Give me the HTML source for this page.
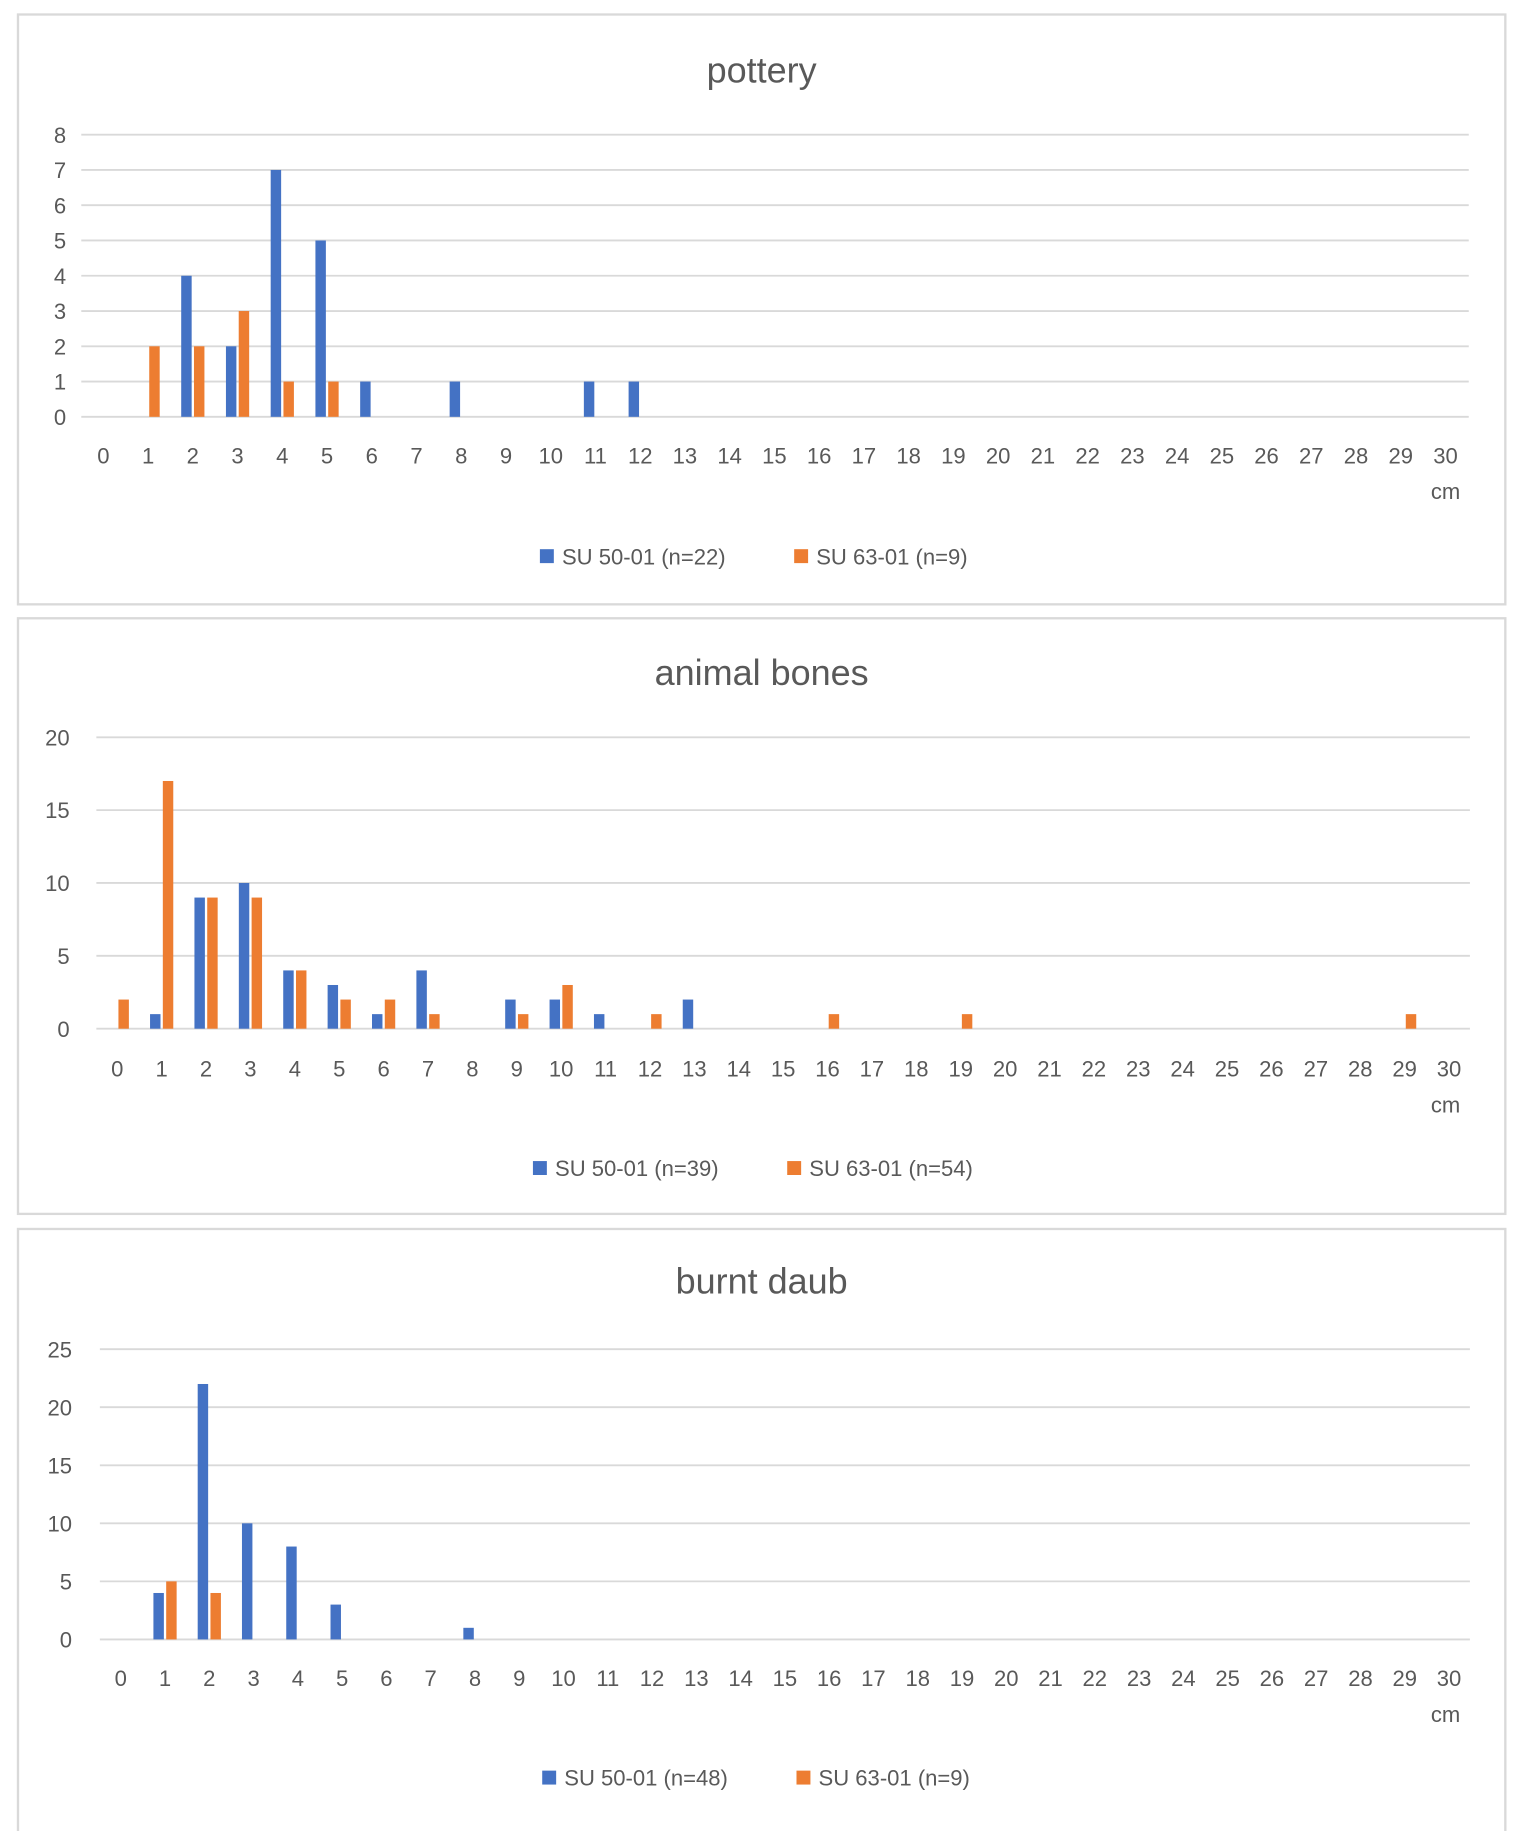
<!DOCTYPE html>
<html><head><meta charset="utf-8"><style>
html,body{margin:0;padding:0;background:#fff;}
svg{display:block;}
</style></head><body>
<svg id="s" width="1521" height="1831" viewBox="0 0 1310 1577" preserveAspectRatio="none" xmlns="http://www.w3.org/2000/svg" font-family="'Liberation Sans', sans-serif">
<rect x="0" y="0" width="1310" height="1577" fill="#fff"/>
</svg>
<script>
const s=document.getElementById('s');
const NS='http://www.w3.org/2000/svg';
function el(t,a,txt){const e=document.createElementNS(NS,t);for(const k in a)e.setAttribute(k,a[k]);if(txt!==undefined)e.textContent=txt;s.appendChild(e);return e;}
const charts=[
 {py:12,ph:508,title:'pottery',ty:60,gx0:70,gx1:1265,c0:89,c30:1245,ytop:116,ybot:359,max:8,step:1,lx:57,tky:392,cmy:423,legy:479,
  blue:{2:4,3:2,4:7,5:5,6:1,8:1,11:1,12:1},orange:{1:2,2:2,3:3,4:1,5:1},
  l1:'SU 50-01 (n=22)',l2:'SU 63-01 (n=9)',legx:465},
 {py:532,ph:513,title:'animal bones',ty:579,gx0:83,gx1:1266,c0:101,c30:1248,ytop:635,ybot:886,max:20,step:5,lx:60,tky:920,cmy:951,legy:1006,
  blue:{1:1,2:9,3:10,4:4,5:3,6:1,7:4,9:2,10:2,11:1,13:2},orange:{0:2,1:17,2:9,3:9,4:4,5:2,6:2,7:1,9:1,10:3,12:1,16:1,19:1,29:1},
  l1:'SU 50-01 (n=39)',l2:'SU 63-01 (n=54)',legx:459},
 {py:1058,ph:530,title:'burnt daub',ty:1103,gx0:86,gx1:1266,c0:104,c30:1248,ytop:1162,ybot:1412,max:25,step:5,lx:62,tky:1445,cmy:1476,legy:1531,
  blue:{1:4,2:22,3:10,4:8,5:3,8:1},orange:{1:5,2:4},
  l1:'SU 50-01 (n=48)',l2:'SU 63-01 (n=9)',legx:467}
];
for(const c of charts){
 el('rect',{x:15.5,y:c.py+0.5,width:1281,height:c.ph,fill:'#fff',stroke:'#d9d9d9','stroke-width':2});
 el('text',{x:656,y:c.ty+11,'text-anchor':'middle','font-size':31,fill:'#595959'},c.title);
 for(let v=0;v<=c.max;v+=c.step){
  const y=c.ybot-(c.ybot-c.ytop)*v/c.max;
  el('line',{x1:c.gx0,x2:c.gx1,y1:y,y2:y,stroke:'#d9d9d9','stroke-width':1.6});
  el('text',{x:c.lx,y:y+7,'text-anchor':'end','font-size':19,fill:'#595959'},v);
 }
 const sp=(c.c30-c.c0)/30;
 for(let i=0;i<=30;i++){
  el('text',{x:c.c0+i*sp,y:c.tky+7,'text-anchor':'middle','font-size':19,fill:'#595959'},i);
 }
 el('text',{x:1245,y:c.cmy+7,'text-anchor':'middle','font-size':19,fill:'#595959'},'cm');
 const u=(c.ybot-c.ytop)/c.max;
 for(const k in c.blue){const x=c.c0+k*sp;const h=c.blue[k]*u;el('rect',{x:x-10,y:c.ybot-h,width:9,height:h,fill:'#4472C4'});}
 for(const k in c.orange){const x=c.c0+k*sp;const h=c.orange[k]*u;el('rect',{x:x+1,y:c.ybot-h,width:9,height:h,fill:'#ED7D31'});}
 el('rect',{x:c.legx,y:c.legy-6,width:12,height:12,fill:'#4472C4'});
 el('text',{x:c.legx+19,y:c.legy+7,'font-size':19,fill:'#595959'},c.l1);
 const x2=c.legx+219;
 el('rect',{x:x2,y:c.legy-6,width:12,height:12,fill:'#ED7D31'});
 el('text',{x:x2+19,y:c.legy+7,'font-size':19,fill:'#595959'},c.l2);
}
</script>
</body></html>
